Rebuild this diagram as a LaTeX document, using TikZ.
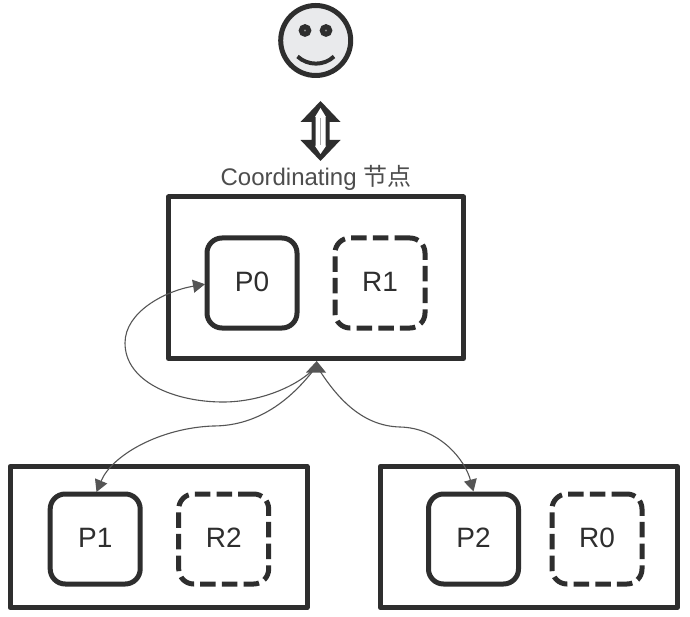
\documentclass[tikz,border=0pt]{standalone}
\usepackage{fontspec}
\setmainfont{Liberation Sans}
\newfontfamily\cjkfont{Noto Sans CJK SC}
\usetikzlibrary{arrows.meta}
\definecolor{ink}{HTML}{2E2E2E}
\definecolor{wire}{HTML}{555555}
\definecolor{faceFill}{HTML}{E9EAEC}
\tikzset{
  hostbox/.style={draw=ink,line width=5pt,line join=round,minimum width=297pt,inner sep=0pt},
  shardbox/.style={draw=ink,line width=5pt,rounded corners=15pt,minimum width=90pt,minimum height=90pt,inner sep=0pt,text depth=3pt,font=\fontsize{28}{32}\selectfont,text=ink},
  replicabox/.style={shardbox,dash pattern=on 15.5pt off 6.2pt},
  wirelink/.style={draw=wire,line width=1.1pt,-{Triangle[length=12pt,width=13pt]}},
  eye/.style={circle,draw=ink,line width=5pt,fill=wire!60,minimum size=7.5pt,inner sep=0pt},
}
\begin{document}
\begin{tikzpicture}[x=1pt,y=-1pt]
\useasboundingbox (0,0) rectangle (690,617);
\fill[white] (0,0) rectangle (690,617);

% boxes
\node[hostbox,minimum width=295pt,minimum height=161.5pt] (main) at (316,277.75) {};
\node[hostbox,minimum height=141pt] (left) at (158.5,537) {};
\node[hostbox,minimum height=141pt] (right) at (528.75,537) {};
\node[shardbox] (p0) at (252,283) {P0};
\node[replicabox] (r1) at (380,283) {R1};
\node[shardbox] (p1) at (95.2,539) {P1};
\node[replicabox] (r2) at (223.7,539) {R2};
\node[shardbox] (p2) at (473.5,539) {P2};
\node[replicabox] (r0) at (597,539) {R0};

% label
\node[text=ink!85,font=\fontsize{24}{28}\selectfont,inner sep=0pt,anchor=base] (title) at (316,186) {Coordinating {\cjkfont 节点}};

% smiley
\node[circle,draw=ink,line width=5pt,fill=faceFill,minimum size=70pt,inner sep=0pt] (face) at (315.7,40.5) {};
\node[eye] (eyeL) at (305,30.5) {};
\node[eye] (eyeR) at (326,30.5) {};
\draw[ink,line width=4pt] (297.5,56.5) .. controls (308,66) and (324,66) .. (334,56.5);

% double arrow
\fill[ink,line join=miter] (320.5,101) -- (340.5,122) -- (329.5,122) -- (329.5,140) -- (340.5,140) -- (320.5,161) -- (300.5,140) -- (311.5,140) -- (311.5,122) -- (300.5,122) -- cycle;
\fill[white] (320.5,108) -- (326,117) -- (325.5,117) -- (325.5,146) -- (326,146) -- (320.5,154) -- (315,146) -- (315.5,146) -- (315.5,117) -- (315,117) -- cycle;
\draw[ink!40,line width=0.5pt] (320.5,118) -- (320.5,145);

% hub and links
\coordinate (hub) at (316.7,366);
\coordinate (turnA) at (223,402);
\coordinate (turnB) at (125,343);
\coordinate (p0in) at (205,284.2);
\coordinate (p1in) at (96.5,492);
\coordinate (p2in) at (473.5,491.5);
\draw[wirelink] (hub) .. controls (300,385) and (262,402) .. (turnA) .. controls (175,402) and (125,382) .. (turnB) .. controls (125,312) and (165,291) .. (p0in);
\draw[wirelink] (hub) .. controls (295,395) and (262,426) .. (213,426) .. controls (160,428) and (112,455) .. (p1in);
\draw[wirelink] (hub) .. controls (335,395) and (360,426) .. (400,427) .. controls (440,428) and (465,460) .. (p2in);
\fill[wire] (316.7,361) -- (326,372.5) -- (306,372.5) -- cycle;
\end{tikzpicture}
\end{document}
